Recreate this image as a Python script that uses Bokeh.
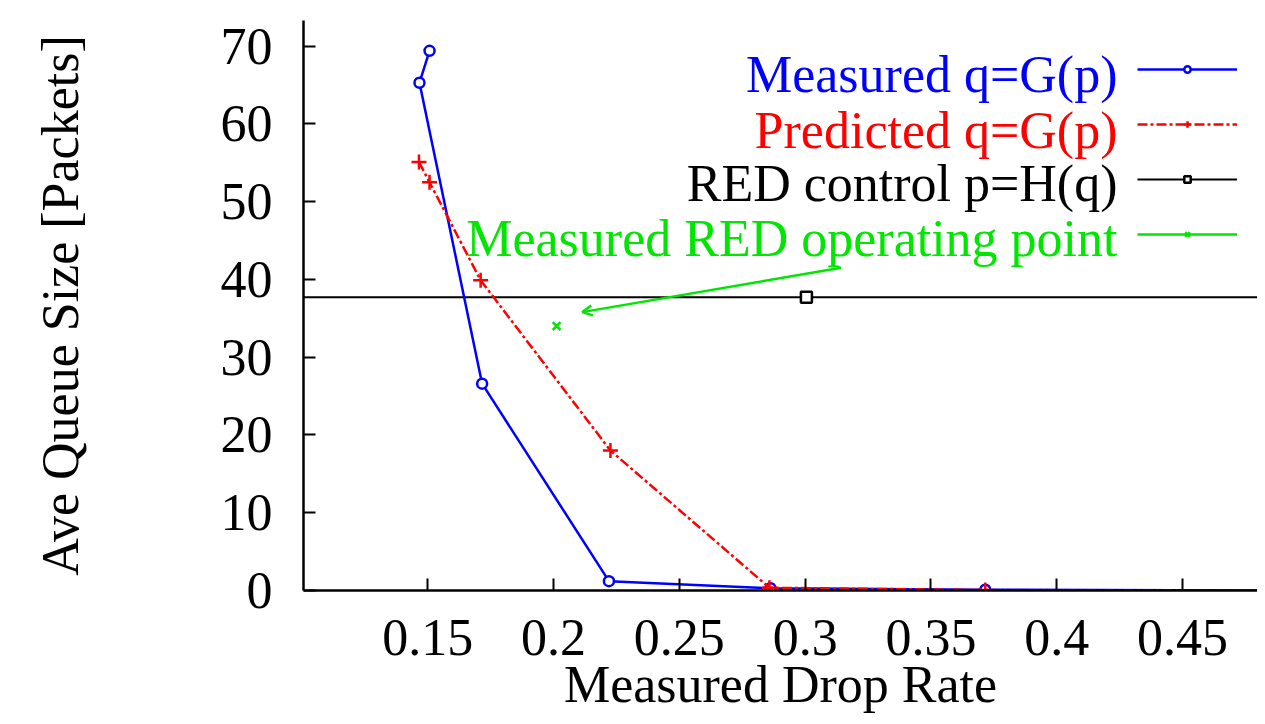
from bokeh.plotting import figure
from bokeh.models import (Range1d, FixedTicker, Legend, LegendItem, Label,
                          Arrow, OpenHead)
from bokeh.embed import file_html
from bokeh.resources import INLINE

# ---- data ----
meas_p = [0.1507, 0.1467, 0.1716, 0.2220, 0.2862, 0.3716, 0.4830]
meas_q = [69.4, 65.3, 26.6, 1.2, 0.3, 0.1, 0.0]

pred_p = [0.1465, 0.1507, 0.1710, 0.2226, 0.2858, 0.3716, 0.4830]
pred_q = [55.1, 52.5, 39.9, 18.0, 0.35, 0.05, 0.0]

ctrl_p = [0.0, 0.3005, 0.6]
ctrl_q = [37.7, 37.7, 37.7]

op_p = [0.2012]
op_q = [34.0]

arrow_p = [0.3143, 0.2114]
arrow_q = [41.5, 35.8]

x_ticks = [0.15, 0.2, 0.25, 0.3, 0.35, 0.4, 0.45]
x_tick_labels = ["0.15", "0.2", "0.25", "0.3", "0.35", "0.4", "0.45"]
y_ticks = [0, 10, 20, 30, 40, 50, 60, 70]
y_tick_labels = ["0", "10", "20", "30", "40", "50", "60", "70"]

x_title = "Measured Drop Rate"
y_title = "Ave Queue Size [Packets]"
legend_labels = ["Measured q=G(p)", "Predicted q=G(p)",
                 "RED control p=H(q)", "Measured RED operating point"]

BLUE = "#0000ff"
RED = "#ff0000"
BLACK = "#000000"
GREEN = "#00e600"
FONT = "Liberation Serif"
FS = "52px"

p = figure(width=1257, height=716, output_backend="svg", toolbar_location=None,
           x_range=Range1d(0.1006, 0.4798), y_range=Range1d(0, 73.3),
           min_border_left=303, min_border_right=0, min_border_top=20,
           min_border_bottom=126)
p.outline_line_color = None
p.xgrid.visible = False
p.ygrid.visible = False
p.background_fill_color = "white"
p.border_fill_color = "white"

for ax in (p.xaxis[0], p.yaxis[0]):
    ax.axis_line_width = 2.5
    ax.axis_line_color = "black"
    ax.major_tick_in = 12
    ax.major_tick_out = 0
    ax.major_tick_line_width = 2
    ax.minor_tick_line_color = None
    ax.major_label_text_font = FONT
    ax.major_label_text_font_size = FS
    ax.major_label_text_color = "black"
    ax.axis_label_text_font = FONT
    ax.axis_label_text_font_size = FS
    ax.axis_label_text_font_style = "normal"
    ax.axis_label_text_color = "black"

p.xaxis.ticker = FixedTicker(ticks=x_ticks)
p.xaxis.major_label_overrides = dict(zip(x_ticks, x_tick_labels))
p.yaxis.ticker = FixedTicker(ticks=y_ticks)
p.yaxis.major_label_overrides = dict(zip(y_ticks, y_tick_labels))
p.xaxis.axis_label = x_title
p.yaxis.axis_label = y_title
p.xaxis.major_label_standoff = 29
p.xaxis.axis_label_standoff = -2
p.yaxis.major_label_standoff = 31
p.yaxis.axis_label_standoff = 129

# ---- series ----
ctrl_l = p.line(ctrl_p, ctrl_q, line_color=BLACK, line_width=2)
ctrl_m = p.scatter(ctrl_p, ctrl_q, marker="square", size=11, line_color=BLACK,
                   fill_color="white", line_width=2.5)

meas_l = p.line(meas_p, meas_q, line_color=BLUE, line_width=2.5)
meas_m = p.scatter(meas_p, meas_q, marker="circle", size=10, line_color=BLUE,
                   fill_color="white", line_width=2.5)

pred_l = p.line(pred_p, pred_q, line_color=RED, line_width=2.5, line_dash="10 3 3 3")
pred_m = p.scatter(pred_p, pred_q, marker="cross", size=15, line_color=RED,
                   line_width=2.5)

op_l = p.line(op_p, op_q, line_color=GREEN, line_width=2.5)
op_m = p.scatter(op_p, op_q, marker="x", size=11, line_color=GREEN, line_width=2.5)

p.add_layout(Arrow(end=OpenHead(size=10, line_color=GREEN, line_width=2.5),
                   x_start=arrow_p[0], y_start=arrow_q[0],
                   x_end=arrow_p[1], y_end=arrow_q[1],
                   line_color=GREEN, line_width=2.5))

# ---- legend (gnuplot style: text on the left, sample on the right) ----
legend = Legend(items=[
    LegendItem(label=" ", renderers=[meas_l, meas_m]),
    LegendItem(label=" ", renderers=[pred_l, pred_m]),
    LegendItem(label=" ", renderers=[ctrl_l, ctrl_m]),
    LegendItem(label=" ", renderers=[op_l, op_m]),
], location=(834, 348), glyph_width=100, glyph_height=16, label_width=0,
    label_height=16, label_standoff=0, label_text_font_size="1px",
    spacing=39, padding=0, margin=0, border_line_alpha=0,
    background_fill_alpha=0)
p.add_layout(legend)

text_colors = [BLUE, RED, BLACK, GREEN]
row_y = [516, 460, 407, 352]
for lab, col, yy in zip(legend_labels, text_colors, row_y):
    p.add_layout(Label(x=814, y=yy, x_units="screen", y_units="screen",
                       text=lab, text_align="right", text_baseline="middle",
                       text_font=FONT, text_font_size=FS,
                       text_color=col))

open("out.html", "w").write(file_html(p, INLINE))
